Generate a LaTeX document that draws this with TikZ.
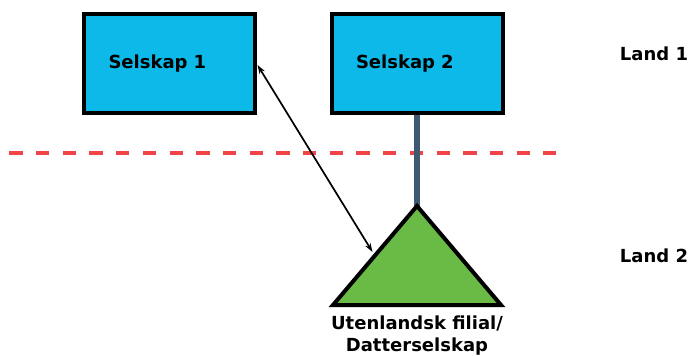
\documentclass[tikz,border=0pt]{standalone}
\usepackage{fontspec}
\setmainfont{DejaVu Sans}
\usepackage{xcolor}
\usetikzlibrary{arrows.meta,positioning}
\definecolor{selskapblue}{RGB}{13,185,232}
\definecolor{filialgreen}{RGB}{106,187,70}
\definecolor{stemgrey}{RGB}{62,90,115}
\definecolor{borderred}{RGB}{240,68,72}

\begin{document}
\begin{tikzpicture}[x=1pt, y=-1pt,
  company/.style={rectangle, draw, line width=4pt, fill=selskapblue, minimum width=171pt, minimum height=99pt, inner sep=0pt, text width=122pt, align=left, font=\bfseries\fontsize{18}{22}\selectfont},
  plain/.style={font=\bfseries\fontsize{18}{22}\selectfont, align=center, inner sep=0pt}]
\fill[white] (0,0) rectangle (691,356);
\useasboundingbox (0,0) rectangle (691,356);
% companies in land 1
\node[company] (s1) at (169.5,63.5) {Selskap 1};
\node[company] (s2) at (417,63.5) {Selskap 2};
% border between the two countries
\draw[borderred, line width=3.5pt, dash pattern=on 13.3pt off 13.4pt] (9.3,153) -- (556,153);
% branch / subsidiary in land 2
\coordinate (apex) at (417,206);
\coordinate (sideL) at (372.5,252);
\coordinate (s1e) at (257.5,65);
\draw[stemgrey, line width=6pt] (s2.south) -- (apex);
\draw[fill=filialgreen, line width=4pt, line join=miter] (apex) -- (333,305) -- (501,305) -- cycle;
\node[plain] (filial) at (417,336) {Utenlandsk filial/\\Datterselskap};
\draw[{Stealth[length=9pt,width=6pt]}-{Stealth[length=9pt,width=6pt]}, line width=1.7pt] (s1e) -- (sideL);
% countries
\node[plain] (land1) at (654,53.5) {Land 1};
\node[plain] (land2) at (654,255.5) {Land 2};
\end{tikzpicture}
\end{document}
